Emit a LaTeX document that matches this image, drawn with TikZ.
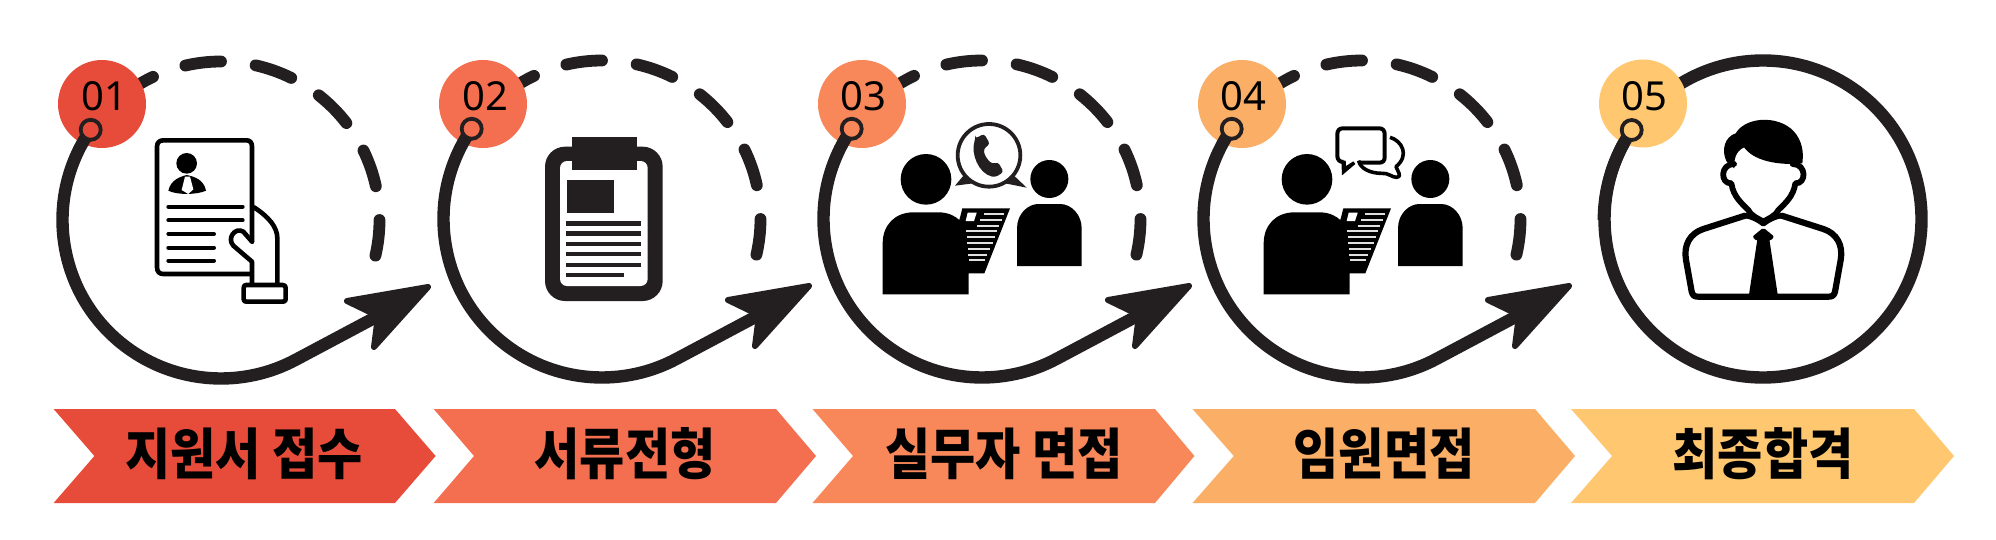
\documentclass[tikz,border=0pt]{standalone}
\usepackage{fontspec}
\setmainfont{Noto Sans}
\newfontfamily\krfont{Noto Sans CJK KR Black}
\definecolor{ink}{HTML}{231F20}
\definecolor{cA}{HTML}{E74C3A}
\definecolor{cB}{HTML}{F46E50}
\definecolor{cC}{HTML}{F8875A}
\definecolor{cD}{HTML}{FBAE66}
\definecolor{cE}{HTML}{FFC870}
\tikzset{
 bigline/.style={draw=ink,line width=6.2pt,line join=round},
 dashline/.style={draw=ink,line width=5.9pt,line cap=round},
 headfill/.style={fill=ink,draw=ink,line width=3pt,line join=round},
 numdisc/.style={circle,inner sep=0pt,minimum size=44pt},
 numtext/.style={anchor=base,inner sep=0pt,font=\fontsize{20}{20}\selectfont},
 chevlabel/.style={anchor=base,inner sep=0pt,font=\krfont\fontsize{27.6}{27.6}\selectfont,xscale=.89,transform shape},
 zoomed/.style={x=0.16667pt,y=-0.16667pt},
 iconline/.style={draw=black,line cap=round,line join=round},
}
% chevron: id, left, notch, shoulder, tip, colour, label, label x
\newcommand{\ChevShape}[8]{%
 \fill[#6] (#2,409)--(#4,409)--(#5,456)--(#4,503)--(#2,503)--(#3,456)--cycle;
 \node[chevlabel] (lab#1) at (#8,474.5) {#7};}
% loop: id, centre x, centre y, disc x, colour, number, number x
\newcommand{\LoopArrow}[7]{%
 \begin{scope}[shift={(#2,#3)}]
  \foreach \a/\b in {-125/-115.4,-103/-90,-77.4/-63.7,-51.9/-37.7,-26/-12.3,0/13}
   \draw[dashline] (\a:158.5) arc[start angle=\a,end angle=\b,radius=158.5];
  \coordinate (notch#1) at (157,96);
  \node[numdisc,fill=#5] (disc#1) at (#4-#2,104-#3) {};
  \coordinate (dot#1) at (-145.3:158.5);
  \draw[bigline] (dot#1) arc[start angle=-145.3,end angle=-298,radius=158.5] -- (notch#1);
  \draw[headfill] (207,67)--(126,81)--(157,96)--(153,127)--cycle;
  \draw[draw=ink,line width=1.9pt,fill=#5] (dot#1) circle[radius=10];
 \end{scope}
 \node[numtext] (num#1) at (#7,111) {#6};}
% two people with a sheet, in zoom pixels of the third panel
\newcommand{\PeoplePair}{%
 \fill[black] (378,418) circle[radius=76];
 \fill[black] (748,417) circle[radius=57];
 \fill[black] (248,763)--(248,610) .. controls (248,555) and (285,517) .. (340,517)
   --(415,517) .. controls (445,517) and (465,528) .. (478,540) --(487,505)--(630,505)--(553,700)--(506,700)--(506,763)--cycle;
 \fill[black] (651,678)--(651,565) .. controls (651,520) and (685,492) .. (715,492)
   --(780,492) .. controls (815,492) and (845,525) .. (845,565)--(845,678)--cycle;
 \fill[white] (503,518)--(530,518)--(522,543)--(497,543)--cycle;
 \foreach \yy/\xa/\xb in {521/552/613,539/540/605,557/530/598,573/498/592,590/500/585,608/500/578,626/505/570,644/505/562,660/507/555}
  \draw[white!88!black,line width=1pt] (\xa,\yy)--(\xb,\yy);
}
\begin{document}
\begin{tikzpicture}[x=0.5pt,y=-0.5pt]
\useasboundingbox (0,0) rectangle (1996,540);
\fill[white] (0,0) rectangle (1996,540);

\LoopArrow{1}{221}{220}{102}{cA}{01}{104.5}
\LoopArrow{2}{602}{219}{483}{cB}{02}{485}
\LoopArrow{3}{982}{219}{862}{cC}{03}{863.7}
\LoopArrow{4}{1362}{219}{1242}{cD}{04}{1243.7}

% fifth: closed circle
\coordinate (c5) at (1763,219);
\draw[bigline] (c5) circle[radius=158.5];
\node[numdisc,fill=cE] (disc5) at (1643,103.5) {};
\draw[bigline] (1632,130) arc[start angle=-145.3,end angle=-180,radius=158.5];
\draw[draw=ink,line width=1.9pt,fill=cE] (1631.7,130) circle[radius=10];
\node[numtext] (num5) at (1644.7,111) {05};

% icon 1: resume and hand
\begin{scope}[shift={(0,0)},zoomed]
 \draw[iconline,line width=2.3pt] (756,725)--(756,440) .. controls (756,428) and (750,421) .. (740,421)
   --(490,421) .. controls (478,421) and (471,428) .. (471,440)
   --(471,802) .. controls (471,815) and (478,822) .. (490,822)--(756,822);
 \fill[black] (560,490) circle[radius=31];
 \fill[black] (505,572) .. controls (512,540) and (540,530) .. (560,525) .. controls (585,530) and (612,540) .. (618,572)
   .. controls (590,585) and (530,585) .. (505,572)--cycle;
 \fill[white] (555,530)--(570,530)--(580,568)--(565,582)--(545,570)--cycle;
 \foreach \yy/\xb in {620/728,661/728,702/642,743/642,782/642}
  \draw[iconline,line width=2pt] (505,\yy)--(\xb,\yy);
 \fill[white] (757,790) rectangle (832,855);
 \draw[iconline,line width=2.3pt] (762,622) .. controls (805,650) and (832,680) .. (832,715)--(832,855);
 \draw[iconline,line width=2.3pt,fill=white] (756,855)--(756,785)--(700,737) .. controls (680,715) and (705,680) .. (730,695)--(756,725);
 \draw[iconline,line width=2.3pt,fill=white] (738,855)--(848,855) .. controls (855,855) and (857,858) .. (857,865)
   --(857,897) .. controls (857,903) and (855,905) .. (848,905)--(740,905) .. controls (733,905) and (731,903) .. (731,897)
   --(731,865) .. controls (731,858) and (733,855) .. (738,855)--cycle;
\end{scope}

% icon 2: clipboard
\begin{scope}[shift={(420,0)},zoomed]
 \fill[ink,rounded corners=10pt] (375,440) rectangle (728,903);
 \fill[white,rounded corners=3.5pt] (420,483) rectangle (683,858);
 \fill[ink] (456,410) rectangle (650,510);
 \fill[ink] (441,540) rectangle (582,640);
 \foreach \yy/\xb in {671/664,701/664,732/664,762/664,795/664,825/612}
  \fill[ink] (438,\yy-7) rectangle (\xb,\yy+7);
\end{scope}

% icon 3: people with telephone bubble
\begin{scope}[shift={(800,40)},zoomed]
 \PeoplePair
 \fill[ink] (492,405)--(465,437)--(520,430)--cycle;
 \fill[ink] (640,405)--(680,443)--(615,430)--cycle;
 \draw[ink,line width=1.9pt,fill=white] (567,346) circle[radius=94];
 \fill[ink,rounded corners=1.5pt] (526,296)--(552,281)--(570,312)--(551,326) .. controls (553,345) and (563,360) .. (577,372)
   --(594,366)--(611,396)--(585,412) .. controls (535,400) and (512,340) .. (526,296)--cycle;
\end{scope}

% icon 4: people with chat bubbles
\begin{scope}[shift={(1181,40)},zoomed]
 \PeoplePair
\end{scope}
\begin{scope}[shift={(1180,40)},zoomed]
 \draw[iconline,line width=2pt,line cap=butt] (490,366) .. controls (478,366) and (472,358) .. (472,348)--(472,282)
   .. controls (472,272) and (478,265) .. (488,265)--(598,265) .. controls (608,265) and (614,272) .. (614,282)
   --(614,352) .. controls (614,362) and (608,368) .. (598,368)--(535,368);
 \fill[black] (484,362)--(497,362)--(498,378)--(520,364)--(526,372)--(486,406)--cycle;
 \draw[iconline,line width=1.8pt,line cap=butt] (630,292) .. controls (665,302) and (690,345) .. (648,380)
   .. controls (652,392) and (668,412) .. (650,412) .. controls (635,412) and (625,398) .. (605,400)
   .. controls (570,400) and (540,385) .. (536,362);
\end{scope}

% icon 5: man with tie
\begin{scope}[shift={(1570,40)},zoomed]
 \fill[black] (497,280) .. controls (530,225) and (640,225) .. (680,285) .. controls (700,315) and (700,345) .. (697,370)
  --(668,372) .. controls (610,372) and (550,360) .. (522,322) .. controls (495,335) and (492,360) .. (493,385)
  --(470,365) .. controls (452,330) and (465,290) .. (497,280)--cycle;
 \draw[iconline,line width=2.9pt] (492,372) .. controls (450,372) and (450,432) .. (484,430)
   .. controls (490,470) and (515,490) .. (535,510) .. controls (545,530) and (565,535) .. (580,545)
   .. controls (595,535) and (615,530) .. (625,510) .. controls (645,490) and (670,470) .. (676,430)
   .. controls (710,432) and (710,372) .. (668,372);
 \draw[iconline,line width=3.1pt] (525,527)--(400,567) .. controls (360,580) and (340,615) .. (348,660)
   --(365,755) .. controls (368,768) and (375,770) .. (385,770)--(775,770) .. controls (785,770) and (792,768) .. (795,755)
   --(812,660) .. controls (820,615) and (800,580) .. (760,567)--(635,527);
 \draw[iconline,line width=2.5pt] (525,527) .. controls (545,530) and (565,540) .. (580,552) .. controls (595,540) and (615,530) .. (635,527);
 \fill[black,rounded corners=1pt] (580,563)--(613,590)--(600,603)--(560,603)--(547,590)--cycle;
 \fill[black] (562,598)--(598,598)--(624,770)--(536,770)--cycle;
\end{scope}

% chevrons
\ChevShape{1}{53.6}{94.4}{395}{435.6}{cA}{지원서 접수}{244}
\ChevShape{2}{433.7}{474}{776}{816}{cB}{서류전형}{625}
\ChevShape{3}{812.5}{853}{1155}{1194.4}{cC}{실무자 면접}{1004}
\ChevShape{4}{1192.5}{1233.8}{1535}{1575}{cD}{임원면접}{1384}
\ChevShape{5}{1571}{1612}{1914}{1954}{cE}{최종합격}{1763}
\end{tikzpicture}
\end{document}
